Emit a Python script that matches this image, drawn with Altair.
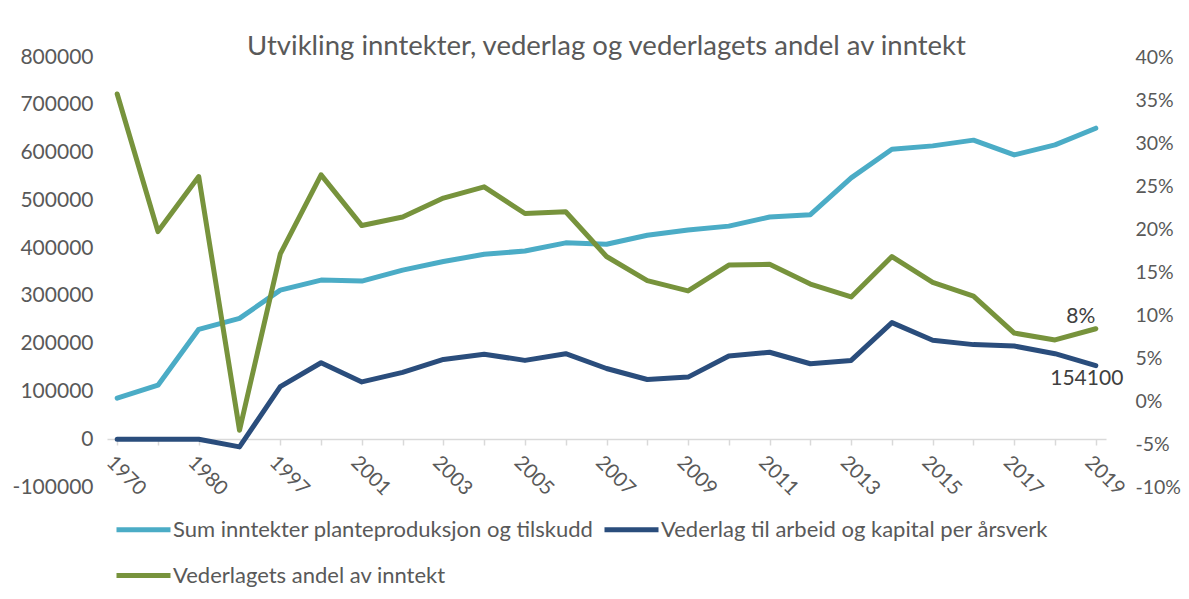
import altair as alt
import pandas as pd

years = ["1970", "1975", "1980", "1985", "1997", "1999", "2001", "2002", "2003", "2004",
         "2005", "2006", "2007", "2008", "2009", "2010", "2011", "2012", "2013", "2014",
         "2015", "2016", "2017", "2018", "2019"]
shown_years = ["1970", "1980", "1997", "2001", "2003", "2005", "2007", "2009", "2011",
               "2013", "2015", "2017", "2019"]
inntekter = [86000, 113000, 230000, 253000, 312000, 333000, 331000, 354000, 372000, 387000,
             394000, 411000, 408000, 427000, 438000, 446000, 465000, 470000, 547000, 607000,
             614000, 626000, 595000, 616000, 651000]
vederlag = [0, 0, 0, -16000, 110000, 160000, 120000, 140000, 167000, 178000,
            165000, 179000, 148000, 125000, 130000, 174000, 182000, 158000, 165000, 244000,
            207000, 198000, 195000, 179000, 154100]
andel = [0.357, 0.197, 0.261, -0.034, 0.171, 0.263, 0.204, 0.214, 0.236, 0.249,
         0.218, 0.220, 0.168, 0.140, 0.128, 0.158, 0.159, 0.136, 0.121, 0.168,
         0.138, 0.122, 0.079, 0.071, 0.084]
series_names = ["Sum inntekter planteproduksjon og tilskudd",
                "Vederlag til arbeid og kapital per årsverk",
                "Vederlagets andel av inntekt"]
series_colors = ["#4BACC6", "#2A4D7C", "#77933C"]
left_ticks = [-100000, 0, 100000, 200000, 300000, 400000, 500000, 600000, 700000, 800000]
right_ticks = [-0.10, -0.05, 0.0, 0.05, 0.10, 0.15, 0.20, 0.25, 0.30, 0.35, 0.40]
title_text = "Utvikling inntekter, vederlag og vederlagets andel av inntekt"

FONT = "Lato"
GREY = "#595959"

n = len(years)
df_left = pd.DataFrame({
    "year": years * 2,
    "value": inntekter + vederlag,
    "series": [series_names[0]] * n + [series_names[1]] * n,
})
df_right = pd.DataFrame({"year": years, "value": andel, "series": [series_names[2]] * n})
df_lab_left = pd.DataFrame({"year": [years[-1]], "value": [vederlag[-1]]})
df_lab_right = pd.DataFrame({"year": [years[-1]], "value": [andel[-1]]})

shown_expr = "indexof([" + ",".join("'%s'" % y for y in shown_years) + "], datum.label) >= 0 ? datum.label : ''"
minus_expr = "replace(datum.label, '\u2212', '-')"

x_scale = alt.Scale(type="point", padding=0.25)
x_axis = alt.Axis(
    labelAngle=45, labelAlign="left", labelBaseline="middle",
    labelExpr=shown_expr, labelOverlap=False,
    labelFont=FONT, labelFontSize=20, labelColor=GREY,
    labelPadding=14, labelOffset=-8,
    domainColor="#D9D9D9", domainWidth=1.5, tickColor="#D9D9D9", tickWidth=1.5,
    tickSize=6, offset=-48, grid=False,
)

color_enc = alt.Color(
    "series:N",
    scale=alt.Scale(domain=series_names, range=series_colors),
    sort=series_names,
    legend=alt.Legend(
        title=None, orient="none", legendX=7, legendY=443, columns=2, direction="horizontal",
        symbolType="stroke", symbolStrokeWidth=5, symbolSize=2916,
        labelFont=FONT, labelFontSize=22, labelColor=GREY, labelLimit=1000,
        columnPadding=0, rowPadding=5, labelOffset=0,
    ),
)

left_scale = alt.Scale(domain=[-100000, 800000], nice=False, zero=False)
right_scale = alt.Scale(domain=[-0.10, 0.40], nice=False, zero=False)

left_axis = alt.Axis(values=left_ticks, format="d", domain=False, ticks=False, grid=False,
                     labelExpr=minus_expr,
                     labelFont=FONT, labelFontSize=21, labelColor=GREY, labelPadding=14,
                     orient="left")
right_axis = alt.Axis(values=right_ticks, format=".0%", domain=False, ticks=False, grid=False,
                      labelExpr=minus_expr,
                      labelFont=FONT, labelFontSize=19.5, labelColor=GREY, labelPadding=29,
                      orient="right")

line_left = alt.Chart(df_left).mark_line(strokeWidth=5, strokeCap="round", strokeJoin="round").encode(
    x=alt.X("year:O", sort=years, title=None, scale=x_scale, axis=x_axis),
    y=alt.Y("value:Q", scale=left_scale, title=None, axis=left_axis),
    color=color_enc,
)
text_left = alt.Chart(df_lab_left).mark_text(
    font=FONT, fontSize=21, color="#404040", dx=-9, dy=13, baseline="middle", align="center"
).encode(
    x=alt.X("year:O", sort=years, title=None, scale=x_scale, axis=x_axis),
    y=alt.Y("value:Q", scale=left_scale, title=None, axis=left_axis),
    text=alt.Text("value:Q", format="d"),
)

line_right = alt.Chart(df_right).mark_line(strokeWidth=5, strokeCap="round", strokeJoin="round").encode(
    x=alt.X("year:O", sort=years, title=None, scale=x_scale, axis=x_axis),
    y=alt.Y("value:Q", scale=right_scale, title=None, axis=right_axis),
    color=color_enc,
)
text_right = alt.Chart(df_lab_right).mark_text(
    font=FONT, fontSize=21, color="#404040", dx=-15, dy=-12, baseline="middle", align="center"
).encode(
    x=alt.X("year:O", sort=years, title=None, scale=x_scale, axis=x_axis),
    y=alt.Y("value:Q", scale=right_scale, title=None, axis=right_axis),
    text=alt.Text("value:Q", format=".0%"),
)

left = alt.layer(line_left, text_left)
right = alt.layer(line_right, text_right)

chart = alt.layer(left, right).resolve_scale(y="independent").properties(
    width=999, height=430,
    background="white",
    title=alt.TitleParams(title_text, font=FONT, fontSize=27.5, fontWeight="normal", color=GREY,
                          anchor="middle", frame="group", baseline="bottom", offset=2, dy=44),
    autosize=alt.AutoSizeParams(type="none"),
    padding={"left": 99, "top": 49, "right": 75, "bottom": 104},
).configure_view(strokeWidth=0)

chart.save("out.html", embed_options={"renderer": "svg", "actions": False})
